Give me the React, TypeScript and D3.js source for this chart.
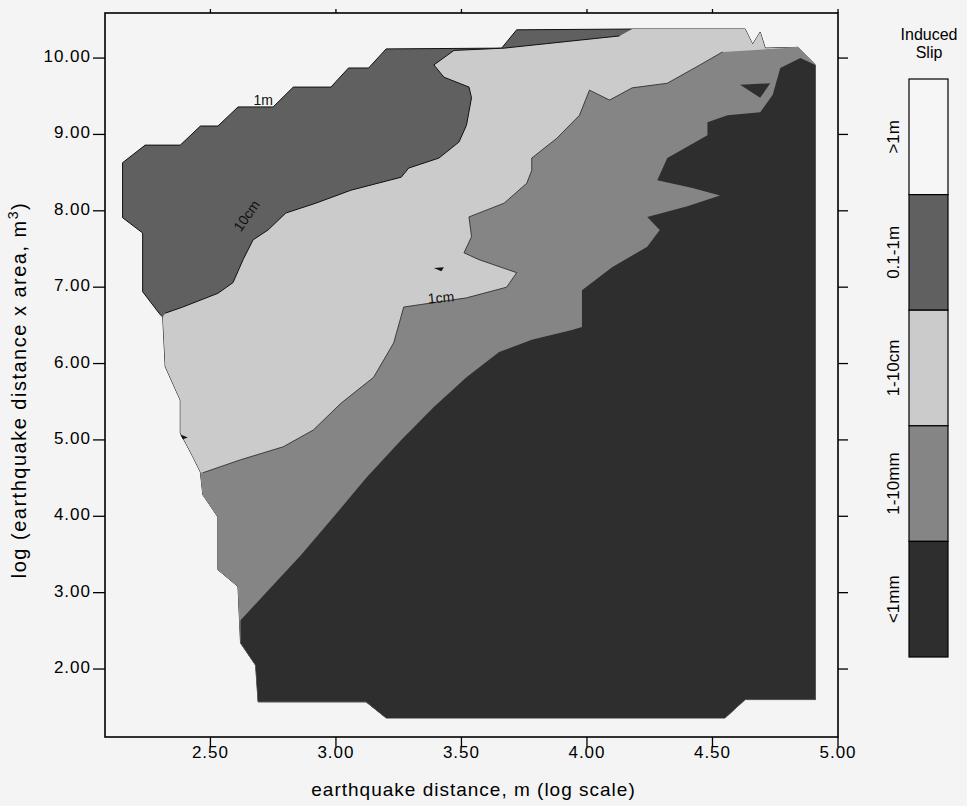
import React from 'react';
import * as d3 from 'd3';

type P = [number, number];

// ---- axes ----
const xDomain: P = [2.08, 5.0];
const yDomain: P = [1.11, 10.59];
const xTickValues = [2.5, 3.0, 3.5, 4.0, 4.5, 5.0];
const yTickValues = [2, 3, 4, 5, 6, 7, 8, 9, 10];

// ---- legend ----
const legendLabels = ['>1m', '0.1-1m', '1-10cm', '1-10mm', '<1mm'];
const legendColors = ['#f6f6f6', '#606060', '#cbcbcb', '#858585', '#2e2e2e'];

// ---- outer data envelope (log distance, log distance x area) ----
const edgeTop: P[] = [
  [2.15, 8.63], [2.24, 8.86], [2.38, 8.86], [2.46, 9.11], [2.53, 9.11], [2.61, 9.36],
  [2.75, 9.36], [2.83, 9.62], [2.98, 9.62], [3.05, 9.87], [3.13, 9.87], [3.2, 10.12], [3.66, 10.13],
];
const stripTop: P[] = [[3.72, 10.37], [4.18, 10.38]];
const edgeTopRight: P[] = [
  [4.63, 10.38], [4.66, 10.18], [4.69, 10.34], [4.71, 10.13], [4.84, 10.14], [4.91, 9.91],
];
const edgeRightBottom: P[] = [
  [4.91, 1.6], [4.63, 1.6], [4.55, 1.36], [3.2, 1.36], [3.12, 1.57], [2.69, 1.57],
  [2.68, 2.05], [2.62, 2.34],
];
const edgeLowerLeft: P[] = [
  [2.61, 3.08], [2.53, 3.3], [2.53, 3.99], [2.47, 4.28], [2.46, 4.58],
];
const edgeLeft: P[] = [
  [2.43, 4.78], [2.38, 5.09], [2.38, 5.52], [2.32, 5.96], [2.31, 6.61],
];
const edgeFarLeft: P[] = [
  [2.3, 6.64], [2.23, 6.94], [2.23, 7.71], [2.15, 7.91],
];

// ---- contour lines ----
const contour10cm: P[] = [
  [2.32, 6.66], [2.39, 6.74], [2.53, 6.92], [2.59, 7.06], [2.63, 7.36], [2.67, 7.62],
  [2.73, 7.75], [2.8, 7.97], [2.92, 8.1], [3.06, 8.27], [3.26, 8.44], [3.29, 8.56],
  [3.41, 8.69], [3.49, 8.9], [3.52, 9.12], [3.54, 9.48], [3.53, 9.62], [3.43, 9.75],
  [3.39, 9.91], [3.47, 10.1], [3.67, 10.13], [4.13, 10.29],
];
const contour1cm: P[] = [
  [2.47, 4.57], [2.62, 4.74], [2.79, 4.91], [2.91, 5.13], [3.02, 5.48], [3.15, 5.82],
  [3.23, 6.27], [3.27, 6.74], [3.52, 6.86], [3.68, 7.0], [3.72, 7.19], [3.57, 7.36],
  [3.51, 7.45], [3.54, 7.66], [3.53, 7.92], [3.67, 8.1], [3.76, 8.36], [3.78, 8.53],
  [3.78, 8.69], [3.88, 8.95], [3.97, 9.25], [4.01, 9.58], [4.09, 9.45], [4.18, 9.61],
  [4.32, 9.67], [4.45, 9.91], [4.54, 10.08],
];
const contour1mm: P[] = [
  [2.62, 2.64], [2.75, 3.1], [2.86, 3.49], [2.99, 3.99], [3.12, 4.5], [3.26, 5.0],
  [3.39, 5.43], [3.52, 5.82], [3.65, 6.15], [3.78, 6.31], [3.94, 6.44], [3.98, 6.48],
  [3.98, 6.96], [4.1, 7.26], [4.24, 7.53], [4.29, 7.75], [4.24, 7.92], [4.4, 8.06],
  [4.53, 8.2], [4.42, 8.3], [4.28, 8.4], [4.32, 8.69], [4.48, 8.99], [4.48, 9.16],
  [4.56, 9.25], [4.69, 9.29], [4.74, 9.52], [4.77, 9.87], [4.85, 10.0],
];
// small isolated islands
const islandTopDark: P[] = [[4.61, 9.65], [4.73, 9.67], [4.69, 9.48]];
const speckA: P[] = [[3.39, 7.25], [3.43, 7.26], [3.42, 7.21]];
const speckB: P[] = [[2.38, 5.07], [2.41, 5.03], [2.39, 5.01]];

// contour labels
const contourLabels: { text: string; at: P; rot: number }[] = [
  { text: '1m', at: [2.71, 9.39], rot: 0 },
  { text: '10cm', at: [2.66, 7.9], rot: -55 },
  { text: '1cm', at: [3.42, 6.8], rot: -5 },
];

const FONT = '"Liberation Sans", Arial, Helvetica, sans-serif';

export default function App() {
  const W = 967;
  const H = 806;
  const L = 105, R = 838, T = 13, B = 737;
  const x = d3.scaleLinear().domain(xDomain).range([L, R]);
  const y = d3.scaleLinear().domain(yDomain).range([B, T]);
  const line = d3.line<P>().x((d) => x(d[0])).y((d) => y(d[1]));
  const poly = (pts: P[]) => (line(pts) || '') + 'Z';

  const regionBelow1m = [
    ...edgeTop, ...stripTop, ...edgeTopRight, ...edgeRightBottom,
    ...edgeLowerLeft, ...edgeLeft, ...edgeFarLeft,
  ];
  const regionBelow10cm = [
    ...contour10cm, stripTop[1], ...edgeTopRight, ...edgeRightBottom,
    ...edgeLowerLeft, ...edgeLeft,
  ];
  const regionBelow1cm = [
    ...contour1cm, ...edgeTopRight.slice(4), ...edgeRightBottom, ...edgeLowerLeft,
  ];
  const regionBelow1mm = [...contour1mm, edgeTopRight[5], ...edgeRightBottom];

  const fmt = d3.format('.2f');
  const legY = d3.scaleBand<string>().domain(legendLabels).range([79, 657]);
  const legX0 = 909, legW = 39;

  return (
    <svg width={W} height={H} style={{ position: 'absolute', left: 0, top: 0 }} fontFamily={FONT}>
      <rect x={0} y={0} width={W} height={H} fill="#f4f4f4" />
      <g>
        <path d={poly(regionBelow1m)} fill={legendColors[1]} stroke="#111" strokeWidth={1} />
        <path d={poly(regionBelow10cm)} fill={legendColors[2]} />
        <path d={poly(regionBelow1cm)} fill={legendColors[3]} />
        <path d={poly(regionBelow1mm)} fill={legendColors[4]} />
        <path d={poly(islandTopDark)} fill={legendColors[4]} />
        <path d={poly(speckA)} fill="#111" />
        <path d={poly(speckB)} fill="#111" />
        <path d={line(contour10cm) || ''} fill="none" stroke="#111" strokeWidth={1} />
        <path d={line(contour1cm) || ''} fill="none" stroke="#222" strokeWidth={0.8} />
        {contourLabels.map((c) => (
          <text key={c.text} x={x(c.at[0])} y={y(c.at[1])} fontSize={14} textAnchor="middle"
            transform={`rotate(${c.rot},${x(c.at[0])},${y(c.at[1])})`} fill="#111">{c.text}</text>
        ))}
      </g>
      {/* frame */}
      <rect x={L} y={T} width={R - L} height={B - T} fill="none" stroke="#000" strokeWidth={1.6} />
      {/* x ticks */}
      {xTickValues.map((v) => (
        <g key={'x' + v}>
          <line x1={x(v)} x2={x(v)} y1={B} y2={B + 10} stroke="#000" strokeWidth={1.3} />
          <line x1={x(v)} x2={x(v)} y1={T} y2={T - 4} stroke="#000" strokeWidth={1.3} />
          <text x={x(v)} y={B + 21} fontSize={17} textAnchor="middle" letterSpacing={1}>{fmt(v)}</text>
        </g>
      ))}
      {/* y ticks */}
      {yTickValues.map((v) => (
        <g key={'y' + v}>
          <line x1={L} x2={L - 12} y1={y(v)} y2={y(v)} stroke="#000" strokeWidth={1.3} />
          <line x1={R} x2={R + 10} y1={y(v)} y2={y(v)} stroke="#000" strokeWidth={1.3} />
          <text x={L - 14} y={y(v) + 4} fontSize={17} textAnchor="end" letterSpacing={1}>{fmt(v)}</text>
        </g>
      ))}
      {/* axis titles */}
      <text x={(L + R) / 2 + 2} y={796} fontSize={19} textAnchor="middle" letterSpacing={1}>
        earthquake distance, m (log scale)
      </text>
      <text transform={`translate(26,390) rotate(-90)`} fontSize={20} textAnchor="middle" letterSpacing={1.5}>
        log (earthquake distance x area, m<tspan dy={-8} fontSize={14}>3</tspan><tspan dy={8}>)</tspan>
      </text>
      {/* legend */}
      <text x={929} y={40} fontSize={16} textAnchor="middle">Induced</text>
      <text x={929} y={58} fontSize={16} textAnchor="middle">Slip</text>
      {legendLabels.map((lab, i) => {
        const y0 = legY(lab) as number;
        const h = legY.bandwidth();
        return (
          <g key={lab}>
            <rect x={legX0} y={y0} width={legW} height={h} fill={legendColors[i]} stroke="#000" strokeWidth={1.2} />
            <text transform={`translate(899,${y0 + h / 2}) rotate(-90)`} fontSize={17} textAnchor="middle">{lab}</text>
          </g>
        );
      })}
    </svg>
  );
}
